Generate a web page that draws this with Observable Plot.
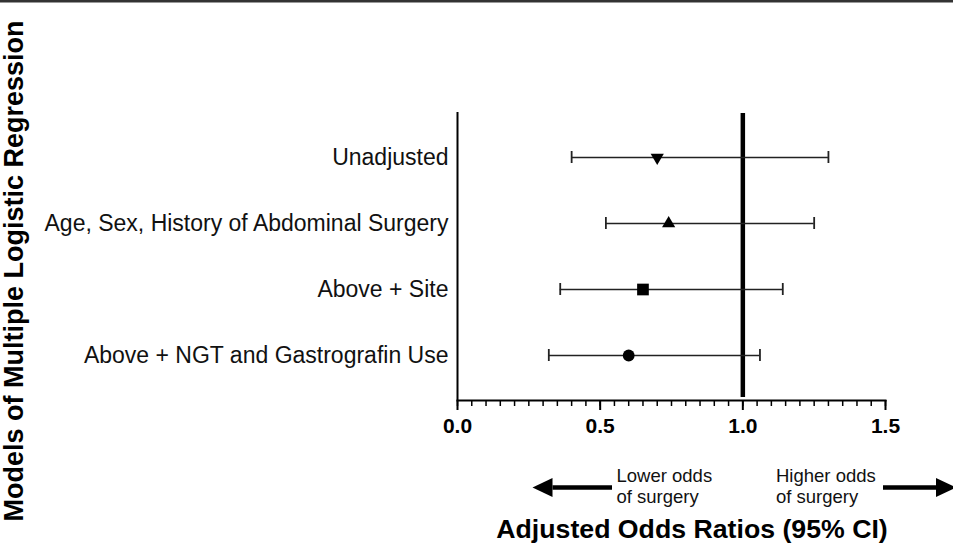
<!DOCTYPE html>
<html>
<head>
<meta charset="utf-8">
<script src="https://cdn.jsdelivr.net/npm/d3@7"></script>
<script src="https://cdn.jsdelivr.net/npm/@observablehq/plot@0.6"></script>
<style>
  html, body { margin: 0; padding: 0; background: #fff; }
  #chart svg { display: block; font-family: "Liberation Sans", Arial, Helvetica, sans-serif; }
</style>
</head>
<body>
<div id="chart"></div>
<script>
// ---- data ----
const models = [
  "Unadjusted",
  "Age, Sex, History of Abdominal Surgery",
  "Above + Site",
  "Above + NGT and Gastrografin Use"
];
const oddsRatio = [0.70, 0.74, 0.65, 0.60];
const ciLow     = [0.40, 0.52, 0.36, 0.32];
const ciHigh    = [1.30, 1.25, 1.14, 1.06];
const symbols   = ["triangle", "triangle", "square", "circle"];
const rotations = [180, 0, 0, 0];
const majorTicks = [0, 0.5, 1.0, 1.5];
const minorTicks = d3.range(0, 31).map(i => i * 0.05);
const xTitle = "Adjusted Odds Ratios (95% CI)";
const yTitle = "Models of Multiple Logistic Regression";
const lowerText = ["Lower odds", "of surgery"];
const higherText = ["Higher odds", "of surgery"];

const rows = models.map((m, i) => ({
  model: m, or: oddsRatio[i], lo: ciLow[i], hi: ciHigh[i],
  symbol: symbols[i], rot: rotations[i]
}));
const markerR = {triangle: 4.9, square: 6.6, circle: 5.9};

const W = 953, H = 543;
const plot = Plot.plot({
  width: W,
  height: H,
  marginLeft: 457,
  marginRight: 68,
  marginTop: 112,
  marginBottom: 143,
  style: {fontFamily: '"Liberation Sans", Arial, Helvetica, sans-serif', color: "#000", background: "#fff"},
  x: {domain: [0, 1.5]},
  y: {type: "band", domain: models, paddingInner: 0.82, paddingOuter: 0.57},
  marks: [
    Plot.frame({anchor: "bottom", stroke: "#000", strokeWidth: 2}),
    Plot.ruleX([0], {stroke: "#000", strokeWidth: 2}),
    Plot.axisX({ticks: minorTicks, tickSize: 6, tickFormat: () => "", strokeWidth: 1.5, stroke: "#000"}),
    Plot.axisX({ticks: majorTicks, tickSize: 10, tickPadding: 8, strokeWidth: 2, stroke: "#000",
      tickFormat: d3.format(".1f"), fontSize: 21, fontWeight: "bold", fill: "#000"}),
    Plot.axisY({tickSize: 0, tickPadding: 9, fontSize: 23, fill: "#111", label: null}),
    Plot.ruleX([1], {stroke: "#000", strokeWidth: 4.5, insetTop: 1, insetBottom: 3}),
    Plot.ruleY(rows, {y: "model", x1: "lo", x2: "hi", stroke: "#222", strokeWidth: 1.6}),
    Plot.tickX(rows, {x: "lo", y: "model", stroke: "#222", strokeWidth: 1.8}),
    Plot.tickX(rows, {x: "hi", y: "model", stroke: "#222", strokeWidth: 1.8}),
    ...rows.map(d => Plot.dot([d], {
      x: "or", y: "model", symbol: "symbol", rotate: "rot",
      r: markerR[d.symbol], fill: "#000", stroke: "none"
    }))
  ]
});
document.getElementById("chart").appendChild(plot);

// ---- annotations (titles, arrows, border) ----
const svg = d3.select(plot);
const font = '"Liberation Sans", Arial, Helvetica, sans-serif';

svg.append("rect").attr("x", 0).attr("y", 0).attr("width", W).attr("height", 2).attr("fill", "#333");
svg.append("rect").attr("x", 0).attr("y", 2).attr("width", W).attr("height", 1).attr("fill", "#999");

svg.append("text")
  .attr("transform", `translate(23,271) rotate(-90)`)
  .attr("text-anchor", "middle")
  .attr("font-family", font).attr("font-weight", "bold").attr("font-size", 27)
  .attr("fill", "#000")
  .text(yTitle);

svg.append("text")
  .attr("x", 692).attr("y", 538)
  .attr("text-anchor", "middle")
  .attr("font-family", font).attr("font-weight", "bold").attr("font-size", 26.7)
  .attr("fill", "#000")
  .text(xTitle);

function multiline(x, lines) {
  const t = svg.append("text").attr("font-family", font).attr("font-size", 18.5)
    .attr("text-anchor", "start").attr("fill", "#111");
  lines.forEach((l, i) => t.append("tspan").attr("x", x).attr("y", 481.5 + i * 21).text(l));
}
multiline(616.5, lowerText);
multiline(776, higherText);

function arrow(xTail, xTip, y) {
  const dir = xTip > xTail ? 1 : -1;
  const headLen = 20, headHalf = 9.5;
  const xBase = xTip - dir * headLen;
  svg.append("line").attr("x1", xTail).attr("x2", xBase).attr("y1", y).attr("y2", y)
    .attr("stroke", "#000").attr("stroke-width", 4.5);
  svg.append("path")
    .attr("d", `M${xTip},${y} L${xBase},${y - headHalf} L${xBase},${y + headHalf} Z`)
    .attr("fill", "#000");
}
arrow(612, 532.5, 487.5);
arrow(883, 956, 487.5);
</script>
</body>
</html>
